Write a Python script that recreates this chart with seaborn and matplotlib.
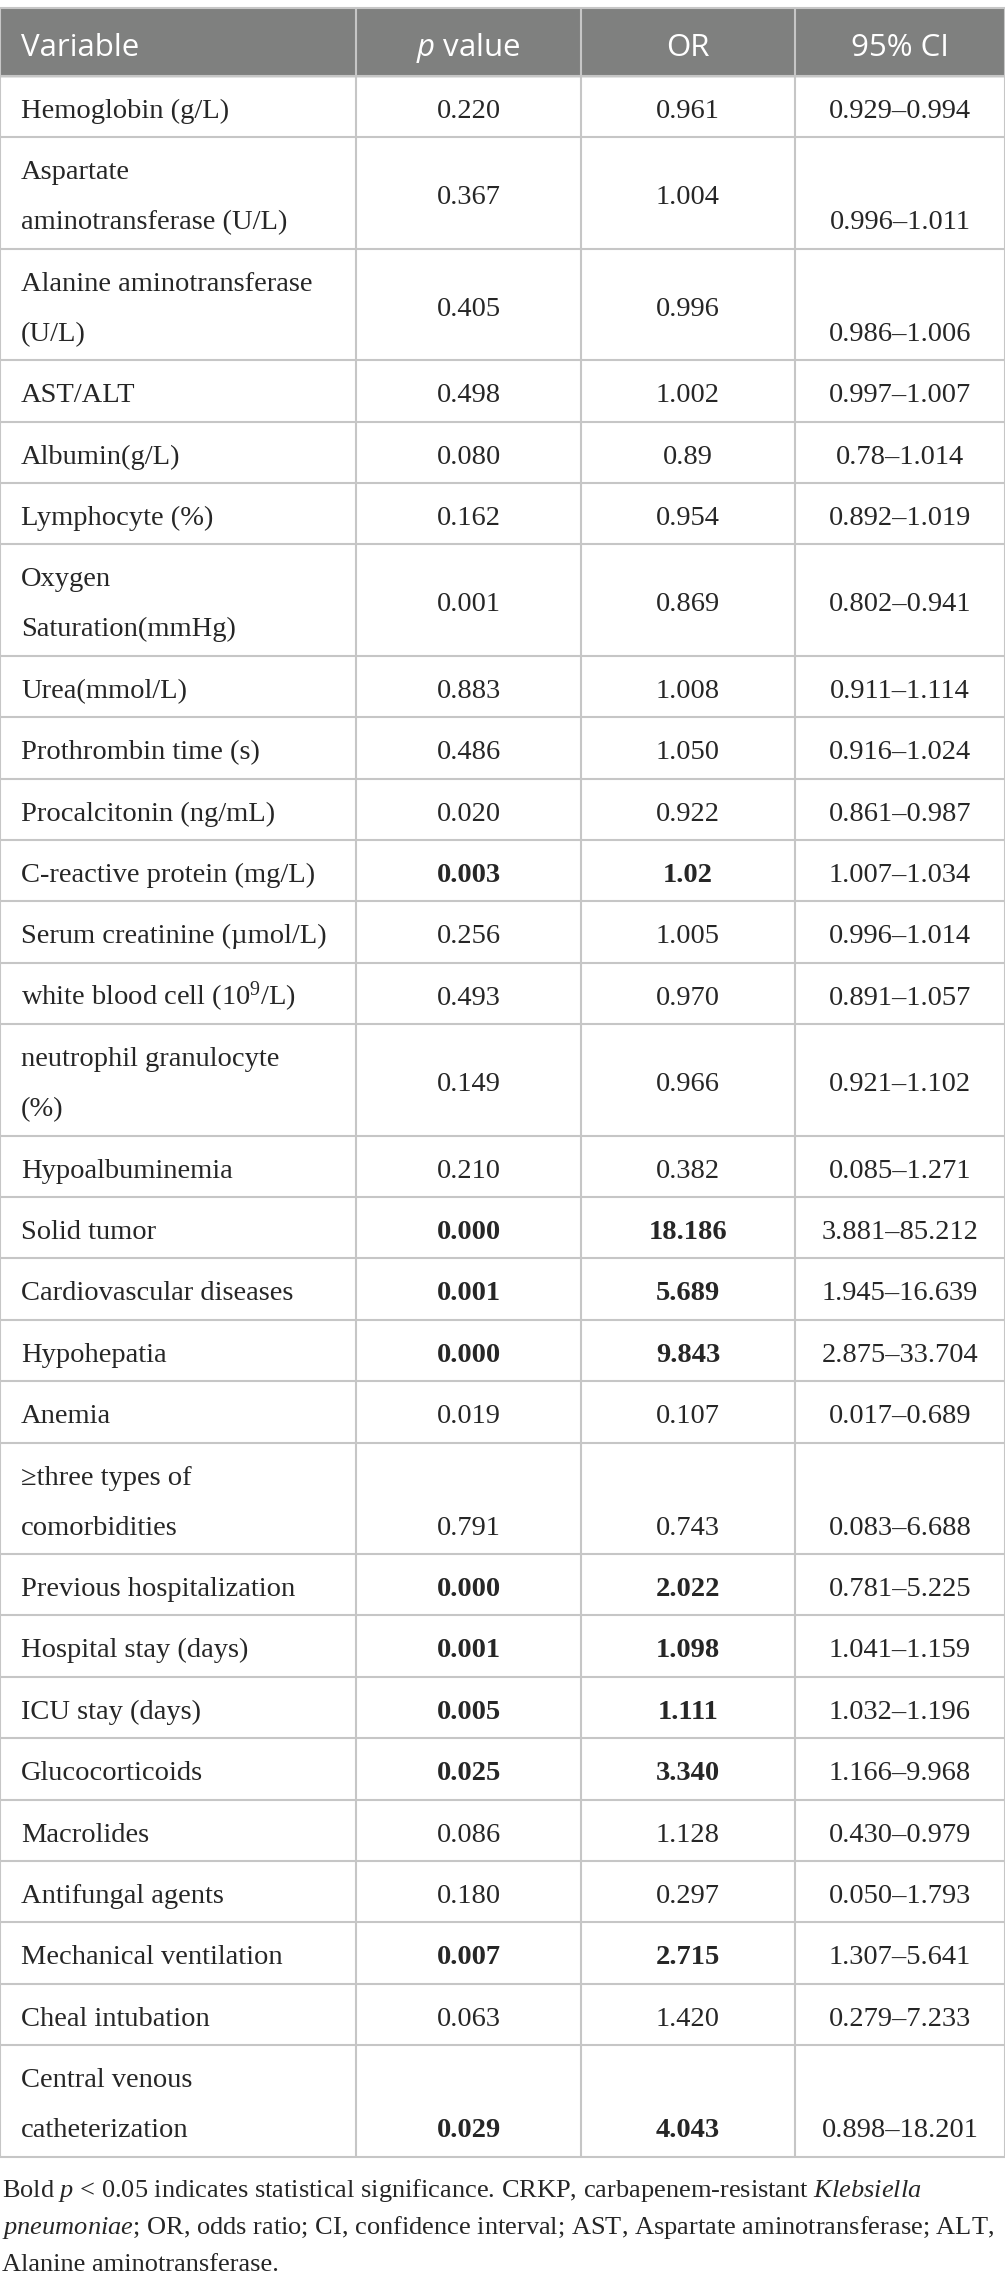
import matplotlib
matplotlib.use("Agg")
import matplotlib.pyplot as plt
import seaborn as sns

# table content
variables = [
    ["Hemoglobin (g/L)"],
    ["Aspartate", "aminotransferase (U/L)"],
    ["Alanine aminotransferase", "(U/L)"],
    ["AST/ALT"],
    ["Albumin(g/L)"],
    ["Lymphocyte (%)"],
    ["Oxygen", "Saturation(mmHg)"],
    ["Urea(mmol/L)"],
    ["Prothrombin time (s)"],
    ["Procalcitonin (ng/mL)"],
    ["C-reactive protein (mg/L)"],
    ["Serum creatinine (\u00b5mol/L)"],
    ["white blood cell (10$^{9}$/L)"],
    ["neutrophil granulocyte", "(%)"],
    ["Hypoalbuminemia"],
    ["Solid tumor"],
    ["Cardiovascular diseases"],
    ["Hypohepatia"],
    ["Anemia"],
    ["\u2265three types of", "comorbidities"],
    ["Previous hospitalization"],
    ["Hospital stay (days)"],
    ["ICU stay (days)"],
    ["Glucocorticoids"],
    ["Macrolides"],
    ["Antifungal agents"],
    ["Mechanical ventilation"],
    ["Cheal intubation"],
    ["Central venous", "catheterization"],
]
p_values = ["0.220", "0.367", "0.405", "0.498", "0.080", "0.162", "0.001", "0.883",
            "0.486", "0.020", "0.003", "0.256", "0.493", "0.149", "0.210", "0.000",
            "0.001", "0.000", "0.019", "0.791", "0.000", "0.001", "0.005", "0.025",
            "0.086", "0.180", "0.007", "0.063", "0.029"]
odds_ratios = ["0.961", "1.004", "0.996", "1.002", "0.89", "0.954", "0.869", "1.008",
               "1.050", "0.922", "1.02", "1.005", "0.970", "0.966", "0.382", "18.186",
               "5.689", "9.843", "0.107", "0.743", "2.022", "1.098", "1.111", "3.340",
               "1.128", "0.297", "2.715", "1.420", "4.043"]
ci_low = ["0.929", "0.996", "0.986", "0.997", "0.78", "0.892", "0.802", "0.911",
          "0.916", "0.861", "1.007", "0.996", "0.891", "0.921", "0.085", "3.881",
          "1.945", "2.875", "0.017", "0.083", "0.781", "1.041", "1.032", "1.166",
          "0.430", "0.050", "1.307", "0.279", "0.898"]
ci_high = ["0.994", "1.011", "1.006", "1.007", "1.014", "1.019", "0.941", "1.114",
           "1.024", "0.987", "1.034", "1.014", "1.057", "1.102", "1.271", "85.212",
           "16.639", "33.704", "0.689", "6.688", "5.225", "1.159", "1.196", "9.968",
           "0.979", "1.793", "5.641", "7.233", "18.201"]
bold_rows = [10, 15, 16, 17, 20, 21, 22, 23, 26, 28]
headers = ["Variable", "$\\mathsf{p}$ value", "OR", "95% CI"]
footnote = [
    "Bold $\\mathit{p}$ < 0.05 indicates statistical significance. CRKP, carbapenem-resistant $\\mathit{Klebsiella}$",
    "$\\mathit{pneumoniae}$; OR, odds ratio; CI, confidence interval; AST, Aspartate aminotransferase; ALT,",
    "Alanine aminotransferase.",
]

# where values sit in two-line rows: (p/OR, CI)
two_line_place = {1: ("mid", "bottom"), 2: ("mid", "bottom"), 6: ("mid", "mid"),
                  13: ("mid", "mid"), 19: ("bottom", "bottom"), 28: ("bottom", "bottom")}

sns.set_theme(style="white")
plt.rcParams["mathtext.fontset"] = "custom"
plt.rcParams["mathtext.rm"] = "Liberation Serif"
plt.rcParams["mathtext.it"] = "Liberation Serif:italic"
plt.rcParams["mathtext.bf"] = "Liberation Serif:bold"
plt.rcParams["mathtext.sf"] = "Open Sans:italic"

W, H = 1005, 2289
fig = plt.figure(figsize=(W / 100, H / 100), dpi=100)
ax = fig.add_axes([0, 0, 1, 1])
ax.set_xlim(0, W)
ax.set_ylim(H, 0)
ax.axis("off")

serif = ["Liberation Serif", "DejaVu Serif"]
line_col = "#c6c6c6"
col_edges = [0, 356, 581, 795, 1005]
centers = [(col_edges[i] + col_edges[i + 1]) / 2 for i in range(4)]
top, head_h = 8, 68
single_h, double_h = 61.4, 111.4
body_fs, head_fs, foot_fs = 20.5, 22.5, 19

# header
ax.axhspan(top, top + head_h, color="#7f807f", zorder=0)
for i, h in enumerate(headers):
    x = 21 if i == 0 else centers[i]
    ax.text(x, top + 48, h, ha="left" if i == 0 else "center", va="baseline",
            color="white", fontsize=head_fs, family=["Open Sans", "DejaVu Sans"])

y = top + head_h
row_lines = [y]
for i, lines in enumerate(variables):
    h = single_h if len(lines) == 1 else double_h
    weight = "bold" if i in bold_rows else "normal"
    ci = f"{ci_low[i]}\u2013{ci_high[i]}"
    if len(lines) == 1:
        ax.text(21, y + 42, lines[0], va="baseline", fontsize=body_fs, family=serif)
        pos = {"p": y + 42, "ci": y + 42}
    else:
        ax.text(21, y + 42, lines[0], va="baseline", fontsize=body_fs, family=serif)
        ax.text(21, y + 92, lines[1], va="baseline", fontsize=body_fs, family=serif)
        ys = {"mid": y + 67, "bottom": y + 92}
        pv, cv = two_line_place[i]
        pos = {"p": ys[pv], "ci": ys[cv]}
    ax.text(centers[1], pos["p"], p_values[i], ha="center", va="baseline",
            fontsize=body_fs, family=serif, fontweight=weight)
    ax.text(centers[2], pos["p"], odds_ratios[i], ha="center", va="baseline",
            fontsize=body_fs, family=serif, fontweight=weight)
    ax.text(centers[3], pos["ci"], ci, ha="center", va="baseline",
            fontsize=body_fs, family=serif)
    y += h
    row_lines.append(y)

bottom = y
ax.hlines([top] + row_lines, 0, W, color=line_col, lw=1.5, zorder=2)
ax.vlines(col_edges, top, bottom, color=line_col, lw=1.5, zorder=2)

for k, t in enumerate(footnote):
    ax.text(2, 2197 + 37 * k, t, va="baseline", fontsize=foot_fs, family=serif)

fig.savefig("out.png", dpi=100, facecolor="white")
